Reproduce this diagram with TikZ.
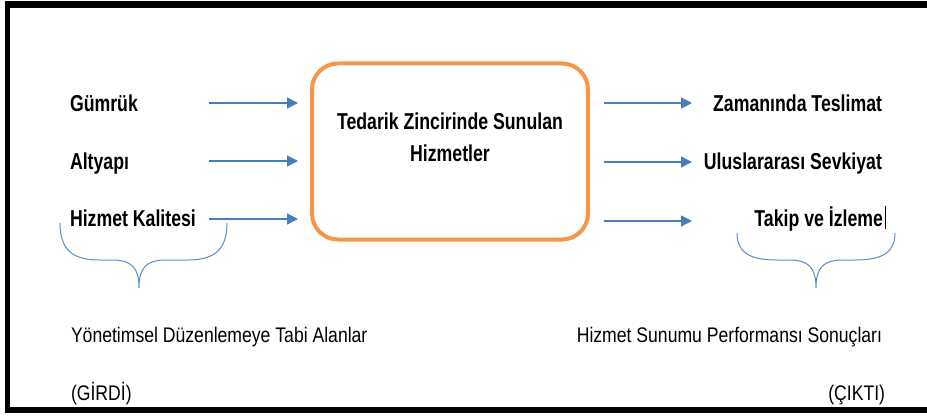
\documentclass[tikz,border=0pt]{standalone}
\usepackage{fontspec}
\setmainfont{Liberation Sans}
\usetikzlibrary{arrows.meta}
\definecolor{boxorange}{HTML}{F79646}
\definecolor{arrblue}{HTML}{4A7EBB}
\definecolor{braceblue}{HTML}{5B8BC9}
\newcommand{\bt}[1]{\scalebox{1}[1.3]{\fontsize{17.7}{21}\selectfont\bfseries #1}}
\newcommand{\rt}[1]{\scalebox{1}[1.2]{\fontsize{17.6}{21}\selectfont #1}}
\begin{document}
\begin{tikzpicture}[x=1pt,y=-1pt,
  lbl/.style={inner sep=0pt,outer sep=0pt},
  arr/.style={draw=arrblue,line width=1.3pt,-{Triangle[length=11pt,width=11pt]}},
  brace/.style={draw=braceblue,line width=1pt},
  frameline/.style={fill=black,draw=none}]
\useasboundingbox (0,0) rectangle (927,417);
% frame
\fill[frameline] (5,1) rectangle (927,8);
\fill[frameline] (5,1) rectangle (10,413);
\fill[frameline] (5,407) rectangle (927,413);
% central box
\node[draw=boxorange,line width=4pt,rounded corners=26pt,minimum width=276pt,minimum height=176pt,inner sep=0pt] (core) at (450,151.5) {};
\node[lbl,anchor=base] (coretxt1) at (450,130) {\bt{Tedarik Zincirinde Sunulan}};
\node[lbl,anchor=base] (coretxt2) at (450,162) {\bt{Hizmetler}};
% left labels
\node[lbl,anchor=base west] (gum) at (70,111.5) {\bt{Gümrük}};
\node[lbl,anchor=base west] (alt) at (70,170) {\bt{Altyapı}};
\node[lbl,anchor=base west] (hiz) at (70,226.5) {\bt{Hizmet Kalitesi}};
% right labels
\node[lbl,anchor=base east] (zam) at (882,111.5) {\bt{Zamanında Teslimat}};
\node[lbl,anchor=base east] (ulu) at (882,170) {\bt{Uluslararası Sevkiyat}};
\node[lbl,anchor=base east] (tak) at (883,226.5) {\bt{Takip ve İzleme}};
\draw[line width=0.8pt] (885.5,206) -- (885.5,229);
% bottom labels
\node[lbl,anchor=base west] (yon) at (71,342) {\rt{Yönetimsel Düzenlemeye Tabi Alanlar}};
\node[lbl,anchor=base west] (gir) at (71,400) {\rt{(GİRDİ)}};
\node[lbl,anchor=base east] (hss) at (882,342) {\rt{Hizmet Sunumu Performansı Sonuçları}};
\node[lbl,anchor=base east] (cik) at (885,400) {\rt{(ÇIKTI)}};
% arrow endpoints
\coordinate (l1s) at (209,103); \coordinate (l1e) at (298,103);
\coordinate (l2s) at (209,161); \coordinate (l2e) at (298,161);
\coordinate (l3s) at (209,219); \coordinate (l3e) at (298,219);
\coordinate (r1s) at (604,103); \coordinate (r1e) at (692,103);
\coordinate (r2s) at (604,162); \coordinate (r2e) at (692,162);
\coordinate (r3s) at (604,221); \coordinate (r3e) at (692,221);
\draw[arr] (l1s) -- (l1e);
\draw[arr] (l2s) -- (l2e);
\draw[arr] (l3s) -- (l3e);
\draw[arr] (r1s) -- (r1e);
\draw[arr] (r2s) -- (r2e);
\draw[arr] (r3s) -- (r3e);
% braces
\draw[brace] (60,223) .. controls (60,252) and (75,260) .. (100,260) -- (112,260)
  .. controls (132,260) and (139,268) .. (139,288)
  .. controls (139,268) and (146,260) .. (166,260) -- (187,260)
  .. controls (212,260) and (227,252) .. (227,223);
\draw[brace] (737,233) .. controls (737,254) and (752,260) .. (777,260) -- (789,260)
  .. controls (809,260) and (816,268) .. (816,288)
  .. controls (816,268) and (823,260) .. (843,260) -- (855,260)
  .. controls (880,260) and (895,254) .. (895,233);
\end{tikzpicture}
\end{document}
